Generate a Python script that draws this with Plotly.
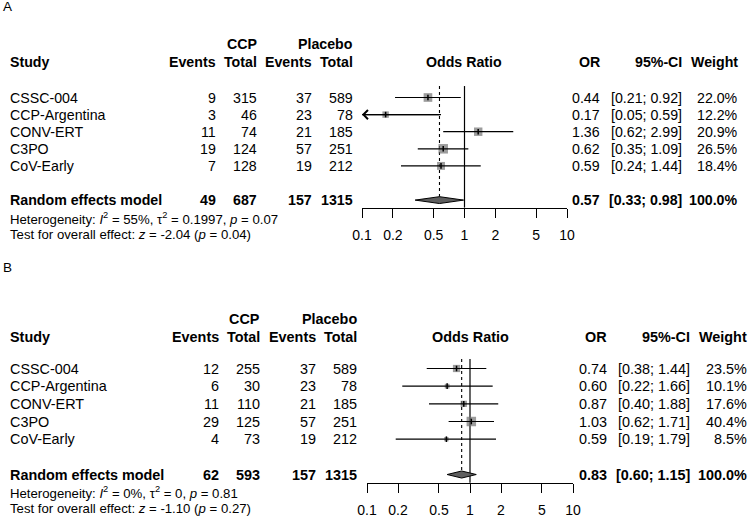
import numpy as np
import plotly.graph_objects as go

W, H = 750, 517
FONT = "Liberation Sans, Arial, sans-serif"

# ---------------- data ----------------
studies = ["CSSC-004", "CCP-Argentina", "CONV-ERT", "C3PO", "CoV-Early"]

a_ccp_events = [9, 3, 11, 19, 7]
a_ccp_total = [315, 46, 74, 124, 128]
a_pl_events = [37, 23, 21, 57, 19]
a_pl_total = [589, 78, 185, 251, 212]
a_or = [0.44, 0.17, 1.36, 0.62, 0.59]
a_lo = [0.21, 0.05, 0.62, 0.35, 0.24]
a_hi = [0.92, 0.59, 2.99, 1.09, 1.44]
a_w = [22.0, 12.2, 20.9, 26.5, 18.4]
a_pooled = dict(ev1=49, tot1=687, ev2=157, tot2=1315, est=0.57, lo=0.33, hi=0.98, w=100.0)
a_het = "Heterogeneity: <i>I</i><sup>2</sup> = 55%, τ<sup>2</sup> = 0.1997, <i>p</i> = 0.07"
a_test = "Test for overall effect: <i>z</i> = -2.04 (<i>p</i> = 0.04)"

b_ccp_events = [12, 6, 11, 29, 4]
b_ccp_total = [255, 30, 110, 125, 73]
b_pl_events = [37, 23, 21, 57, 19]
b_pl_total = [589, 78, 185, 251, 212]
b_or = [0.74, 0.60, 0.87, 1.03, 0.59]
b_lo = [0.38, 0.22, 0.40, 0.62, 0.19]
b_hi = [1.44, 1.66, 1.88, 1.71, 1.79]
b_w = [23.5, 10.1, 17.6, 40.4, 8.5]
b_pooled = dict(ev1=62, tot1=593, ev2=157, tot2=1315, est=0.83, lo=0.60, hi=1.15, w=100.0)
b_het = "Heterogeneity: <i>I</i><sup>2</sup> = 0%, τ<sup>2</sup> = 0, <i>p</i> = 0.81"
b_test = "Test for overall effect: <i>z</i> = -1.10 (<i>p</i> = 0.27)"

tick_vals = [0.1, 0.2, 0.5, 1, 2, 5, 10]
tick_text = ["0.1", "0.2", "0.5", "1", "2", "5", "10"]
x_min, x_max = 0.1, 10

# ---------------- layout geometry (pixels) ----------------
panels = [
    dict(tag="A", ev1=a_ccp_events, tot1=a_ccp_total, ev2=a_pl_events, tot2=a_pl_total,
         est=a_or, lo=a_lo, hi=a_hi, w=a_w, pooled=a_pooled, het=a_het, test=a_test,
         xa="x", ya="y", xname="xaxis", yname="yaxis",
         row0=97.5, step=17.1, label_y=7,
         c_study=9, c_ev1=217, c_tot1=258, c_ev2=313, c_tot2=354,
         f_left=362, f_right=567, c_or=601, c_ci=683, c_w=739,
         k_h1=-3.13, k_h2=-2.06, k_top=-0.67, k_axis=6.44, k_het=7.06, k_test=8.04,
         fs=14.2),
    dict(tag="B", ev1=b_ccp_events, tot1=b_ccp_total, ev2=b_pl_events, tot2=b_pl_total,
         est=b_or, lo=b_lo, hi=b_hi, w=b_w, pooled=b_pooled, het=b_het, test=b_test,
         xa="x2", ya="y2", xname="xaxis2", yname="yaxis2",
         row0=368.5, step=17.67, label_y=267,
         c_study=9, c_ev1=219.5, c_tot1=261, c_ev2=316.5, c_tot2=358,
         f_left=367, f_right=573, c_or=608, c_ci=691, c_w=748,
         k_h1=-2.8, k_h2=-1.8, k_top=-0.54, k_axis=6.46, k_het=6.99, k_test=7.9,
         fs=14.4),
]

fig = go.Figure()
annotations = []


def txt(text, xpx, yk, yref, anchor="right", size=14.5, bold=False):
    if bold:
        text = "<b>" + text + "</b>"
    annotations.append(dict(
        text=text, x=xpx / W, xref="paper", y=yk, yref=yref,
        xanchor=anchor, yanchor="middle", showarrow=False, borderpad=0,
        font=dict(family=FONT, size=size, color="black")))


for p in panels:
    ya, xa, fs = p["ya"], p["xa"], p["fs"]
    n = len(studies)
    k_pool = n + 1
    # panel label
    annotations.append(dict(text=p["tag"], x=2 / W, xref="paper", y=1 - p["label_y"] / H,
                            yref="paper", xanchor="left", yanchor="middle", showarrow=False,
                            borderpad=0, font=dict(family=FONT, size=13.5, color="black")))
    # headers
    txt("CCP", p["c_tot1"], p["k_h1"], ya, size=fs, bold=True)
    txt("Placebo", p["c_tot2"], p["k_h1"], ya, size=fs, bold=True)
    txt("Study", p["c_study"], p["k_h2"], ya, anchor="left", size=fs, bold=True)
    txt("Events", p["c_ev1"], p["k_h2"], ya, size=fs, bold=True)
    txt("Total", p["c_tot1"], p["k_h2"], ya, size=fs, bold=True)
    txt("Events", p["c_ev2"], p["k_h2"], ya, size=fs, bold=True)
    txt("Total", p["c_tot2"], p["k_h2"], ya, size=fs, bold=True)
    txt("Odds Ratio", (p["f_left"] + p["f_right"]) / 2, p["k_h2"], ya, anchor="center", size=fs, bold=True)
    txt("OR", p["c_or"], p["k_h2"], ya, size=fs, bold=True)
    txt("95%-CI", p["c_ci"], p["k_h2"], ya, size=fs, bold=True)
    txt("Weight", p["c_w"], p["k_h2"], ya, size=fs, bold=True)

    # study rows
    for k, s in enumerate(studies):
        txt(s, p["c_study"], k, ya, anchor="left", size=fs)
        txt(str(p["ev1"][k]), p["c_ev1"], k, ya, size=fs)
        txt(str(p["tot1"][k]), p["c_tot1"], k, ya, size=fs)
        txt(str(p["ev2"][k]), p["c_ev2"], k, ya, size=fs)
        txt(str(p["tot2"][k]), p["c_tot2"], k, ya, size=fs)
        txt(f"{p['est'][k]:.2f}", p["c_or"], k, ya, size=fs)
        txt(f"[{p['lo'][k]:.2f}; {p['hi'][k]:.2f}]", p["c_ci"], k, ya, size=fs)
        txt(f"{p['w'][k]:.1f}%", p["c_w"], k, ya, size=fs)

    pl = p["pooled"]
    txt("Random effects model", p["c_study"], k_pool, ya, anchor="left", size=fs, bold=True)
    txt(str(pl["ev1"]), p["c_ev1"], k_pool, ya, size=fs, bold=True)
    txt(str(pl["tot1"]), p["c_tot1"], k_pool, ya, size=fs, bold=True)
    txt(str(pl["ev2"]), p["c_ev2"], k_pool, ya, size=fs, bold=True)
    txt(str(pl["tot2"]), p["c_tot2"], k_pool, ya, size=fs, bold=True)
    txt(f"{pl['est']:.2f}", p["c_or"], k_pool, ya, size=fs, bold=True)
    txt(f"[{pl['lo']:.2f}; {pl['hi']:.2f}]", p["c_ci"], k_pool, ya, size=fs, bold=True)
    txt(f"{pl['w']:.1f}%", p["c_w"], k_pool, ya, size=fs, bold=True)
    txt(p["het"], p["c_study"], p["k_het"], ya, anchor="left", size=13.2)
    txt(p["test"], p["c_study"], p["k_test"], ya, anchor="left", size=13.2)

    # reference line at OR = 1
    fig.add_trace(go.Scatter(x=[1, 1], y=[p["k_top"], p["k_axis"]], mode="lines",
                             line=dict(color="black", width=1.2), xaxis=xa, yaxis=ya,
                             hoverinfo="skip", showlegend=False))
    # dotted line at pooled estimate
    dh = 0.2
    fig.add_trace(go.Scatter(x=[pl["est"], pl["est"]], y=[p["k_top"], k_pool - dh], mode="lines",
                             line=dict(color="black", width=1.1, dash="dot"), xaxis=xa, yaxis=ya,
                             hoverinfo="skip", showlegend=False))

    # squares
    wmax = max(p["w"])
    sizes = [9.5 * np.sqrt(w / wmax) for w in p["w"]]
    fig.add_trace(go.Scatter(x=p["est"], y=list(range(n)), mode="markers",
                             marker=dict(symbol="square", size=sizes, color="#727272",
                                         line=dict(width=0)),
                             xaxis=xa, yaxis=ya, hoverinfo="skip", showlegend=False,
                             cliponaxis=False))
    # CI lines
    cx, cy = [], []
    for k in range(n):
        cx += [max(p["lo"][k], x_min), min(p["hi"][k], x_max), None]
        cy += [k, k, None]
    fig.add_trace(go.Scatter(x=cx, y=cy, mode="lines", line=dict(color="black", width=1.2),
                             xaxis=xa, yaxis=ya, hoverinfo="skip", showlegend=False))
    # estimate tick marks
    fig.add_trace(go.Scatter(x=p["est"], y=list(range(n)), mode="markers",
                             marker=dict(symbol="line-ns", size=4,
                                         line=dict(width=1.5, color="black")),
                             xaxis=xa, yaxis=ya, hoverinfo="skip", showlegend=False,
                             cliponaxis=False))
    # arrows for truncated CIs
    for k in range(n):
        if p["lo"][k] < x_min:
            annotations.append(dict(
                x=np.log10(x_min), y=k, xref=xa, yref=ya,
                ax=np.log10(min(p["hi"][k], x_max)), ay=k, axref=xa, ayref=ya,
                text="", showarrow=True, arrowhead=4, arrowsize=1.6, arrowwidth=1.1,
                arrowcolor="black", standoff=0))
    # diamond
    fig.add_trace(go.Scatter(x=[pl["lo"], pl["est"], pl["hi"], pl["est"], pl["lo"]],
                             y=[k_pool, k_pool - dh, k_pool, k_pool + dh, k_pool],
                             mode="lines", fill="toself", fillcolor="#5e5e5e",
                             line=dict(color="black", width=1), xaxis=xa, yaxis=ya,
                             hoverinfo="skip", showlegend=False))

layout_axes = {}
for p in panels:
    layout_axes[p["xname"]] = dict(
        type="log", range=[np.log10(x_min), np.log10(x_max)],
        domain=[p["f_left"] / W, p["f_right"] / W],
        anchor="free", position=1 - (p["row0"] + p["step"] * p["k_axis"]) / H,
        showgrid=False, zeroline=False, showline=True, linecolor="black", linewidth=1,
        ticks="outside", ticklen=9, tickwidth=1, tickcolor="black",
        tickvals=tick_vals, ticktext=tick_text, ticklabelstandoff=6, automargin=False,
        tickfont=dict(family=FONT, size=14, color="black"), fixedrange=True)
    layout_axes[p["yname"]] = dict(
        domain=[0, 1], anchor=p["xa"], automargin=False,
        range=[(H - p["row0"]) / p["step"], -p["row0"] / p["step"]],
        visible=False, showgrid=False, zeroline=False, fixedrange=True)

fig.update_layout(
    width=W, height=H, margin=dict(l=0, r=0, t=0, b=0, pad=0, autoexpand=False),
    paper_bgcolor="white", plot_bgcolor="rgba(0,0,0,0)",
    showlegend=False, annotations=annotations, **layout_axes)

fig.write_html("out.html", config={"displayModeBar": False},
               post_script="document.body.style.margin='0px';")
